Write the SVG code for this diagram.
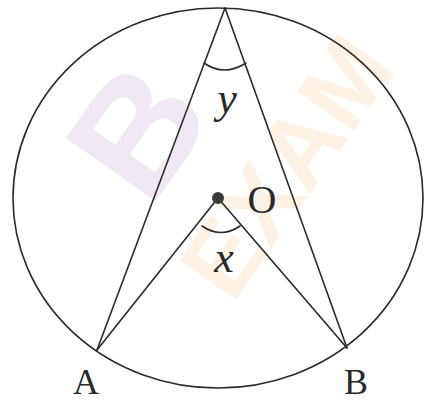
<svg xmlns="http://www.w3.org/2000/svg" width="425" height="402" viewBox="0 0 425 402">
<style>
.ln{fill:none;stroke:#2a2a2a;stroke-width:1.6;stroke-linecap:round}
.lbl{font-family:"Liberation Serif","DejaVu Serif",serif;fill:#2a2a2a;text-anchor:middle}
.it{font-style:italic}
.wm{font-family:"Liberation Sans","DejaVu Sans",sans-serif;font-weight:bold}
</style>
<rect width="425" height="402" fill="#ffffff"/>
<g id="watermark">
<text class="wm" x="0" y="0" font-size="160" fill="#f0e9f4" transform="translate(150,210) rotate(-55)">B</text>
<text class="wm" x="0" y="0" font-size="100" fill="#fdf2e6" transform="translate(232,305) rotate(-55)">EXAM</text>
</g>
<g id="circle">
<ellipse class="ln" cx="218" cy="198" rx="205" ry="190"/>
</g>
<g id="connectors">
<line class="ln" x1="225" y1="8" x2="97" y2="350"/>
<line class="ln" x1="225" y1="8" x2="347" y2="348"/>
<line class="ln" x1="218" y1="198" x2="97" y2="350"/>
<line class="ln" x1="218" y1="198" x2="347" y2="348"/>
<path class="ln" d="M204,63 Q224,77 246,63"/>
<path class="ln" d="M202,226 Q221,239 240,226"/>
</g>
<g id="O">
<circle cx="218" cy="198" r="6" fill="#3a3a3a"/>
<text class="lbl" x="262" y="213" font-size="40">O</text>
</g>
<g id="A"><text class="lbl" x="86" y="394" font-size="36">A</text></g>
<g id="B"><text class="lbl" x="356" y="394" font-size="36">B</text></g>
<g id="y"><text class="lbl it" x="227" y="113" font-size="44">y</text></g>
<g id="x"><text class="lbl it" x="224" y="272" font-size="44">x</text></g>
</svg>
